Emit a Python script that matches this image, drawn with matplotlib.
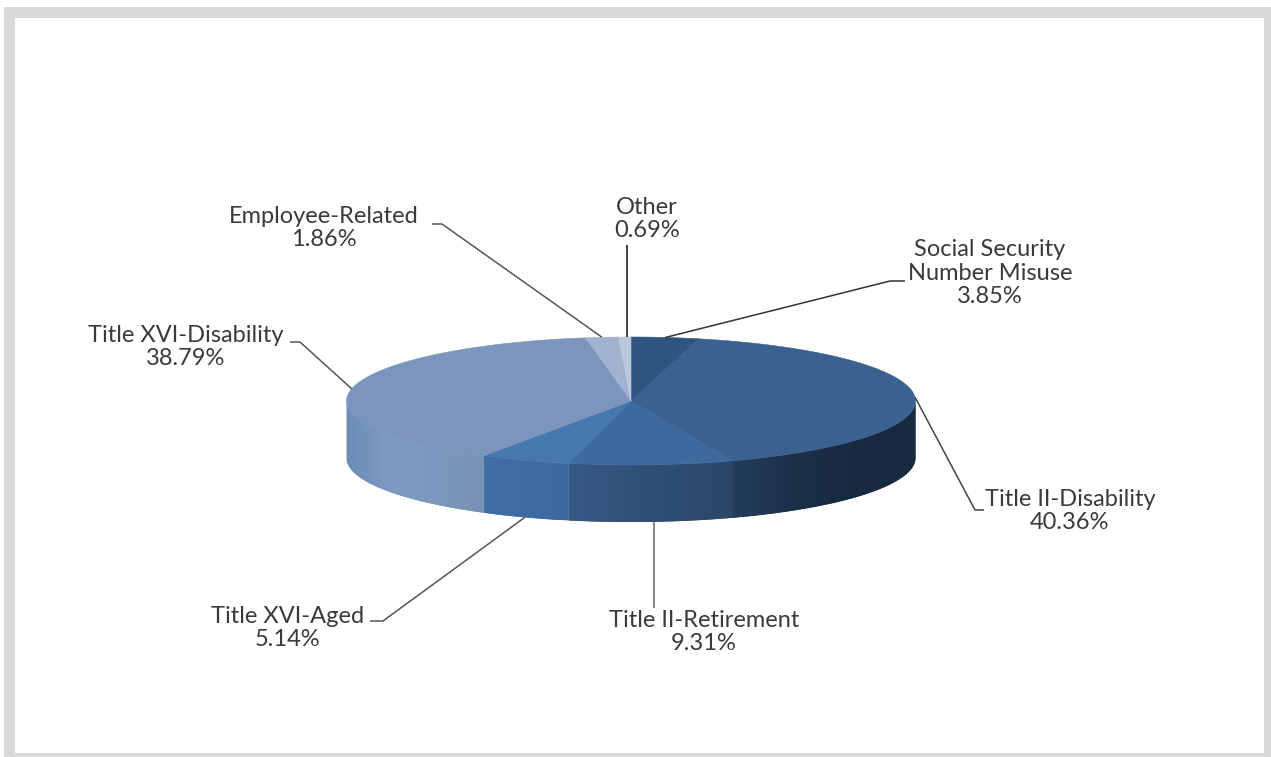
"""Agency workload share as a tilted 3D pie."""
import matplotlib
matplotlib.use("Agg")
import matplotlib.pyplot as plt
import numpy as np
from matplotlib.colors import to_rgb
from matplotlib.patches import Polygon, Rectangle

categories = [
    "Social Security\nNumber Misuse",
    "Title II-Disability",
    "Title II-Retirement",
    "Title XVI-Aged",
    "Title XVI-Disability",
    "Employee-Related",
    "Other",
]
shares = [3.85, 40.36, 9.31, 5.14, 38.79, 1.86, 0.69]

top_colors = ["#2f5480", "#3a6190", "#3d6a9e", "#4677ae", "#7b95bd", "#a1b2cf", "#bcc8dd"]
# side wall colour stops, evenly spaced in x from the slice's right end to its left end
side_stops = [
    None,
    ["#172a40", "#182a40", "#1b2f48", "#253e5d"],
    ["#2b4668", "#2f4f76", "#365a85"],
    ["#3c6a9f", "#406fa5"],
    ["#7791b3", "#7c98be", "#7f9bc2", "#6c8db8"],
    None,
    None,
]
line_colors = ["#333333", "#444444", "#666666", "#555555", "#555555", "#555555", "#111111"]

# label centre, then the elbow points from the label to the pie rim
label_xy = [(990, 273), (1070, 511), (704, 632), (288, 628), (186, 347), (324, 228), (647, 219)]
elbows = [
    [(905, 281), (890, 281)],
    [(984, 510), (975, 510)],
    [(654, 608)],
    [(370, 621), (383, 621)],
    [(290, 342), (300, 342)],
    [(432, 224), (442, 224)],
    [(627, 245)],
]

CX, CY, RX, RY, DEPTH = 631, 401, 284.5, 64, 57

plt.rcParams["font.family"] = ["Lato", "DejaVu Sans"]
fig = plt.figure(figsize=(12.71, 7.57), dpi=100)
ax = fig.add_axes([0, 0, 1, 1])
ax.axis("off")

ax.add_patch(Rectangle((4, 7), 1267, 750, fc="#d9d9d9", ec="none", zorder=0))
ax.add_patch(Rectangle((15, 18), 1249, 735, fc="white", ec="none", zorder=1))


def rim(angle):
    """Point on the top ellipse, angle in radians clockwise from twelve o'clock."""
    return CX + RX * np.sin(angle), CY - RY * np.cos(angle)


edges = np.radians(np.cumsum([0] + shares) * 3.6)

# side wall, only the arc facing the viewer, shaded left to right and clipped to the arc
for i, stops in enumerate(side_stops):
    if stops is None:
        continue
    lo, hi = max(edges[i], np.pi / 2), min(edges[i + 1], 3 * np.pi / 2)
    xs, ys = rim(np.linspace(lo, hi, 120))
    outline = np.r_[np.column_stack([xs, ys]), np.column_stack([xs, ys + DEPTH])[::-1]]
    wall = Polygon(outline, fc=stops[0], ec="none", zorder=2, transform=ax.transData)
    ax.add_patch(wall)
    rgb = np.array([to_rgb(c) for c in stops[::-1]])
    pos = np.linspace(0, 1, len(stops))
    col = np.linspace(0, 1, 256)
    ramp = np.stack([np.interp(col, pos, rgb[:, c]) for c in range(3)], axis=-1)[None, :, :]
    img = ax.imshow(ramp, extent=(xs.min(), xs.max(), ys.max() + DEPTH, ys.min()),
                    aspect="auto", interpolation="bilinear", zorder=2.1)
    img.set_clip_path(wall)

ax.set_xlim(0, 1271)
ax.set_ylim(757, 0)

# top face
for i in range(len(shares)):
    xs, ys = rim(np.linspace(edges[i], edges[i + 1], 120))
    pts = np.column_stack([np.r_[CX, xs], np.r_[CY, ys]])
    ax.add_patch(Polygon(pts, fc=top_colors[i], ec=top_colors[i], lw=0.4, zorder=3))

# leader lines end at the middle of each slice's rim
for i, name in enumerate(categories):
    mid = (edges[i] + edges[i + 1]) / 2
    x, y = rim(mid)
    if np.pi / 2 < mid < 3 * np.pi / 2:
        y += DEPTH
    if len(elbows[i]) == 1:
        x = elbows[i][0][0]
    path = elbows[i] + [(x, y)]
    ax.plot(*zip(*path), color=line_colors[i], lw=1.1, zorder=4, solid_capstyle="butt")
    ax.text(*label_xy[i], f"{name}\n{shares[i]:.2f}%", ha="center", va="center",
            fontsize=17, color="#3a3a3a", linespacing=1.17, zorder=5)

fig.savefig("out.png", dpi=100)
plt.close(fig)
